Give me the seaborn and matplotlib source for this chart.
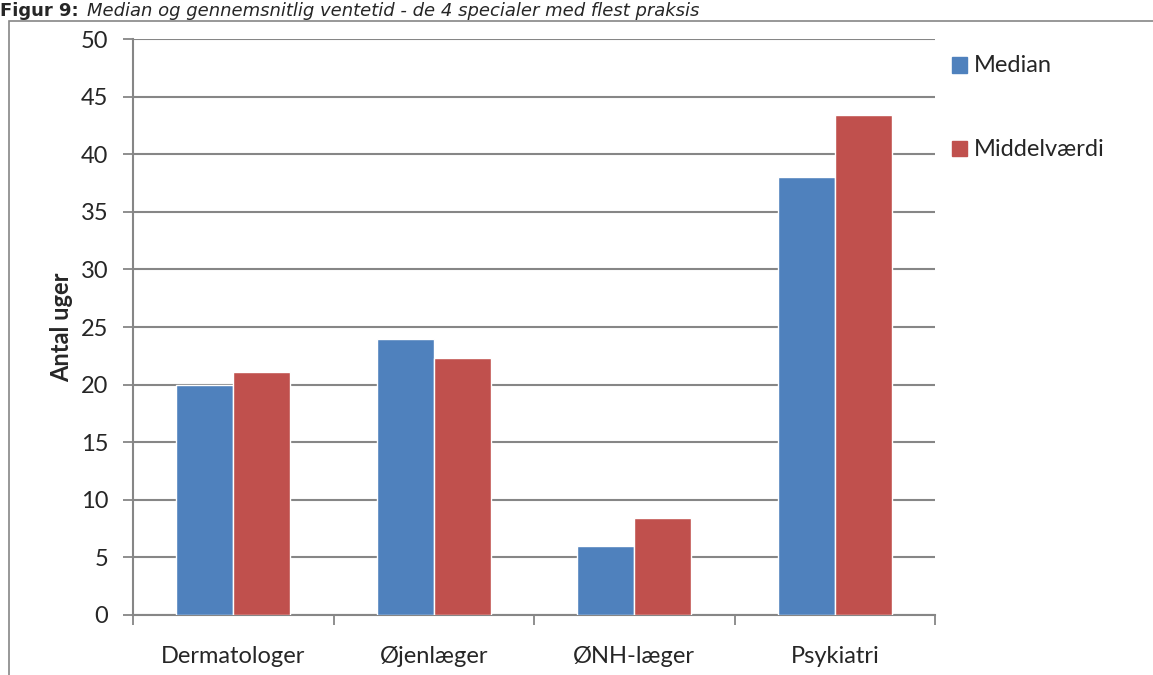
import matplotlib
matplotlib.use("Agg")
import matplotlib.pyplot as plt
import seaborn as sns
import pandas as pd
from matplotlib.patches import Rectangle

categories = ["Dermatologer", "Øjenlæger", "ØNH-læger", "Psykiatri"]
median = [20, 24, 6, 38]
middel = [21.1, 22.3, 8.4, 43.4]
series = ["Median", "Middelværdi"]
yticks = list(range(0, 55, 5))

df = pd.DataFrame({
    "Speciale": categories * 2,
    "Uger": median + middel,
    "Serie": [series[0]] * len(categories) + [series[1]] * len(categories),
})

sns.set_theme(style="white")
plt.rcParams["font.family"] = ["Lato", "DejaVu Sans"]
FS = 17

fig = plt.figure(figsize=(11.53, 6.75), dpi=100)
ax = fig.add_axes([0.1154, 0.0889, 0.6956, 0.8533])

palette = {"Median": "#4F81BD", "Middelværdi": "#C0504D"}
sns.barplot(data=df, x="Speciale", y="Uger", hue="Serie", palette=palette,
            width=0.57, saturation=1, ax=ax, legend=False, zorder=3)

ax.set_xlim(-0.5, len(categories) - 0.5)
ax.set_ylim(0, 50)
ax.set_yticks(yticks)
ax.set_yticklabels([str(t) for t in yticks], fontsize=FS)
ax.yaxis.grid(True, color="#868686", linewidth=1.5, zorder=0)
ax.set_axisbelow(True)

ax.set_xticks([i - 0.5 for i in range(len(categories) + 1)], minor=False)
ax.set_xticklabels([])
ax.set_xticks(range(len(categories)), minor=True)
ax.set_xticklabels(categories, minor=True, fontsize=FS)
ax.tick_params(axis="x", which="major", length=7, width=1.3, color="#868686",
               direction="out", bottom=True)
ax.tick_params(axis="x", which="minor", length=0, pad=22)
ax.tick_params(axis="y", length=7, width=1.3, color="#868686", direction="out",
               left=True, pad=11)

for side in ["top", "right"]:
    ax.spines[side].set_visible(False)
for side in ["left", "bottom"]:
    ax.spines[side].set_color("#868686")
    ax.spines[side].set_linewidth(1.5)

ax.set_xlabel("")
ax.set_ylabel("Antal uger", fontsize=FS, fontweight="bold", labelpad=5)

# legend entries
for i, (name, col) in enumerate(palette.items()):
    y = 1 - (65 + 84 * i) / 675
    fig.patches.append(Rectangle((952 / 1153, y - 7.5 / 675), 15 / 1153, 15 / 675,
                                 transform=fig.transFigure, color=col))
    fig.text(974 / 1153, y, name, fontsize=FS, va="center", ha="left")

# outer chart frame
fig.patches.append(Rectangle((9 / 1153, -0.01), 1.0, 1 - 21 / 675 + 0.01,
                             transform=fig.transFigure, fill=False,
                             edgecolor="#868686", linewidth=1.2))

# figure caption along the top edge: bold label followed by italic text
cap_y = 1 - 16 / 675
t1 = fig.text(0.0, cap_y, "Figur 9:", fontsize=13, fontweight="bold",
              family="DejaVu Sans", va="baseline", ha="left")
fig.canvas.draw()
bb = t1.get_window_extent(renderer=fig.canvas.get_renderer())
x2 = (bb.x1 + 8) / fig.bbox.width
fig.text(x2, cap_y,
         "Median og gennemsnitlig ventetid - de 4 specialer med flest praksis",
         fontsize=13, style="italic", family="DejaVu Sans", va="baseline", ha="left")

fig.savefig("out.png", dpi=100)
